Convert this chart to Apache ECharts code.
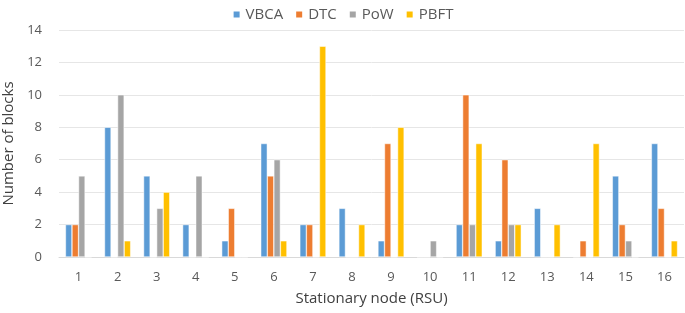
<!DOCTYPE html>
<html>
<head>
<meta charset="utf-8">
<script src="https://cdn.jsdelivr.net/npm/echarts@6/dist/echarts.min.js"></script>
<style>
  html, body { margin: 0; padding: 0; background: #fff; }
  #chart { width: 685px; height: 313px; }
</style>
</head>
<body>
<div id="chart"></div>
<script>
const nodes = ['1', '2', '3', '4', '5', '6', '7', '8', '9', '10', '11', '12', '13', '14', '15', '16'];
const vbca = [2, 8, 5, 2, 1, 7, 2, 3, 1, 0, 2, 1, 3, 0, 5, 7];
const dtc = [2, 0, 0, 0, 3, 5, 2, 0, 7, 0, 10, 6, 0, 1, 2, 3];
const pow = [5, 10, 3, 5, 0, 6, 0, 0, 0, 1, 2, 2, 0, 0, 1, 0];
const pbft = [0, 1, 4, 0, 0, 1, 13, 2, 8, 0, 7, 2, 2, 7, 0, 1];

const font = 'Open Sans';
const textColor = '#595959';

const barSeries = (name, data, color) => ({
  name: name,
  type: 'bar',
  data: data,
  barGap: '0%',
  barCategoryGap: '33%',
  itemStyle: { color: color, borderColor: '#ffffff', borderWidth: 0.5 },
});

const chart = echarts.init(document.getElementById('chart'));
chart.setOption({
  animation: false,
  textStyle: { fontFamily: font },
  legend: {
    top: 2,
    left: 'center',
    itemWidth: 8,
    itemHeight: 8,
    itemGap: 11,
    icon: 'rect',
    textStyle: { color: textColor, fontSize: 15, fontFamily: font },
    data: ['VBCA', 'DTC', 'PoW', 'PBFT'],
  },
  grid: { left: 59, right: 1, top: 30, bottom: 56, outerBoundsMode: 'none', containLabel: false },
  xAxis: {
    type: 'category',
    data: nodes,
    name: 'Stationary node (RSU)',
    nameLocation: 'middle',
    nameGap: 34,
    nameTextStyle: { color: '#404040', fontSize: 15, fontFamily: font },
    axisTick: { show: false },
    axisLine: { lineStyle: { color: '#d9d9d9', width: 1 } },
    axisLabel: { color: textColor, fontSize: 13, margin: 14 },
  },
  yAxis: {
    type: 'value',
    min: 0,
    max: 14,
    interval: 2,
    name: 'Number of blocks',
    nameLocation: 'middle',
    nameGap: 41,
    nameTextStyle: { color: '#404040', fontSize: 15, fontFamily: font },
    axisLine: { show: false },
    axisTick: { show: false },
    axisLabel: { color: textColor, fontSize: 13, margin: 17 },
    splitLine: { lineStyle: { color: '#e6e6e6', width: 1 } },
  },
  series: [
    barSeries('VBCA', vbca, '#5b9bd5'),
    barSeries('DTC', dtc, '#ed7d31'),
    barSeries('PoW', pow, '#a5a5a5'),
    barSeries('PBFT', pbft, '#ffc000'),
  ],
});
</script>
</body>
</html>
